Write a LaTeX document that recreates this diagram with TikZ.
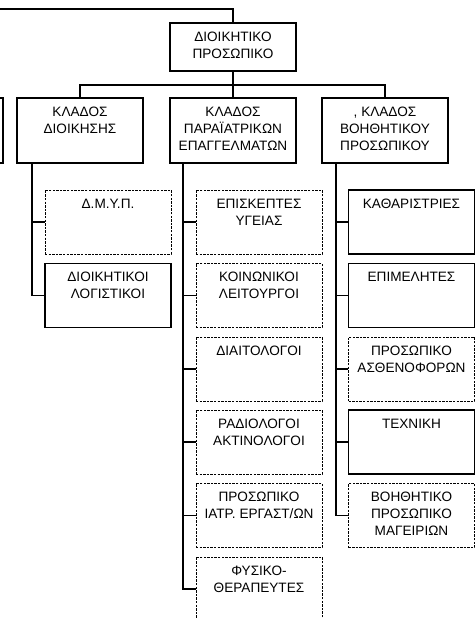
\documentclass[tikz,border=0pt]{standalone}
\usepackage{fontspec}
\setmainfont{Liberation Sans}
\usetikzlibrary{positioning}

\tikzset{
    unit/.style={draw, line width=0.9pt, inner sep=0pt, minimum width=94.5pt, minimum height=48pt},
    post/.style={unit, line width=0.75pt, dash pattern=on 1.8pt off 0.9pt},
    head/.style={unit, minimum height=48.75pt},
    lbl/.style={align=center, inner sep=0pt, font=\fontsize{10.2}{12.75}\selectfont},
    link/.style={line width=0.9pt},
}

\begin{document}
\begin{tikzpicture}[x=0.75pt, y=-0.75pt]
    \clip (0,0) rectangle (475,619);

    % top of the chart
    \node[unit, minimum height=36pt] (staff) at (233,47) {};
    \node[lbl, below=6.75pt of staff.north] (staff-t) {ΔΙΟΙΚΗΤΙΚΟ\\ΠΡΟΣΩΠΙΚΟ};

    % branches
    \node[head] (cut) at (-60,130.5) {};
    \node[head] (adm) at (80,130.5) {};
    \node[head] (para) at (233,130.5) {};
    \node[head] (aux) at (385,130.5) {};
    \node[lbl, below=6.75pt of adm.north] (adm-t) {ΚΛΑΔΟΣ\\ΔΙΟΙΚΗΣΗΣ};
    \node[lbl, below=6.75pt of para.north] (para-t) {ΚΛΑΔΟΣ\\ΠΑΡΑΪΑΤΡΙΚΩΝ\\ΕΠΑΓΓΕΛΜΑΤΩΝ};
    \node[lbl, below=6.75pt of aux.north] (aux-t) {, ΚΛΑΔΟΣ\\ΒΟΗΘΗΤΙΚΟΥ\\ΠΡΟΣΩΠΙΚΟΥ};

    % administration
    \node[post] (dmyp) at (108,222) {};
    \node[unit] (acct) at (108,295.5) {};
    \node[lbl, below=6.75pt of dmyp.north] (dmyp-t) {Δ.Μ.Υ.Π.};
    \node[lbl, below=6.75pt of acct.north] (acct-t) {ΔΙΟΙΚΗΤΙΚΟΙ\\ΛΟΓΙΣΤΙΚΟΙ};

    % paramedical
    \node[post] (visit) at (259,222) {};
    \node[post] (social) at (259,295.5) {};
    \node[post] (diet) at (259,369) {};
    \node[post] (radio) at (259,442) {};
    \node[post] (lab) at (259,515.5) {};
    \node[post] (physio) at (259,589) {};
    \node[lbl, below=6.75pt of visit.north] (visit-t) {ΕΠΙΣΚΕΠΤΕΣ\\ΥΓΕΙΑΣ};
    \node[lbl, below=6.75pt of social.north] (social-t) {ΚΟΙΝΩΝΙΚΟΙ\\ΛΕΙΤΟΥΡΓΟΙ};
    \node[lbl, below=6.75pt of diet.north] (diet-t) {ΔΙΑΙΤΟΛΟΓΟΙ};
    \node[lbl, below=6.75pt of radio.north] (radio-t) {ΡΑΔΙΟΛΟΓΟΙ\\ΑΚΤΙΝΟΛΟΓΟΙ};
    \node[lbl, below=6.75pt of lab.north] (lab-t) {ΠΡΟΣΩΠΙΚΟ\\ΙΑΤΡ. ΕΡΓΑΣΤ/ΩΝ};
    \node[lbl, below=6.75pt of physio.north] (physio-t) {ΦΥΣΙΚΟ-\\ΘΕΡΑΠΕΥΤΕΣ};

    % auxiliary
    \node[unit] (clean) at (411.5,222) {};
    \node[unit] (super) at (411.5,295.5) {};
    \node[post] (ambul) at (411.5,369) {};
    \node[unit] (tech) at (411.5,442) {};
    \node[post] (cook) at (411.5,515.5) {};
    \node[lbl, below=6.75pt of clean.north] (clean-t) {ΚΑΘΑΡΙΣΤΡΙΕΣ};
    \node[lbl, below=6.75pt of super.north] (super-t) {ΕΠΙΜΕΛΗΤΕΣ};
    \node[lbl, below=6.75pt of ambul.north] (ambul-t) {ΠΡΟΣΩΠΙΚΟ\\ΑΣΘΕΝΟΦΟΡΩΝ};
    \node[lbl, below=6.75pt of tech.north] (tech-t) {ΤΕΧΝΙΚΗ};
    \node[lbl, below=6.75pt of cook.north] (cook-t) {ΒΟΗΘΗΤΙΚΟ\\ΠΡΟΣΩΠΙΚΟ\\ΜΑΓΕΙΡΙΩΝ};

    % connectors
    \coordinate (above) at (0,9);
    \coordinate (bus) at (233,85);
    \coordinate (admspine) at (32,163);
    \coordinate (paraspine) at (183,163);
    \coordinate (auxspine) at (336,163);

    \draw[link] (above) -| (staff.north);
    \draw[link] (staff.south) -- (para.north);
    \draw[link] (adm.north) |- (bus) -| (aux.north);

    \draw[link] (admspine) |- (dmyp.west);
    \draw[link] (admspine) |- (acct.west);

    \foreach \n in {visit, social, diet, radio, lab, physio}
        \draw[link] (paraspine) |- (\n.west);

    \foreach \n in {clean, super, ambul, tech, cook}
        \draw[link] (auxspine) |- (\n.west);
\end{tikzpicture}
\end{document}
